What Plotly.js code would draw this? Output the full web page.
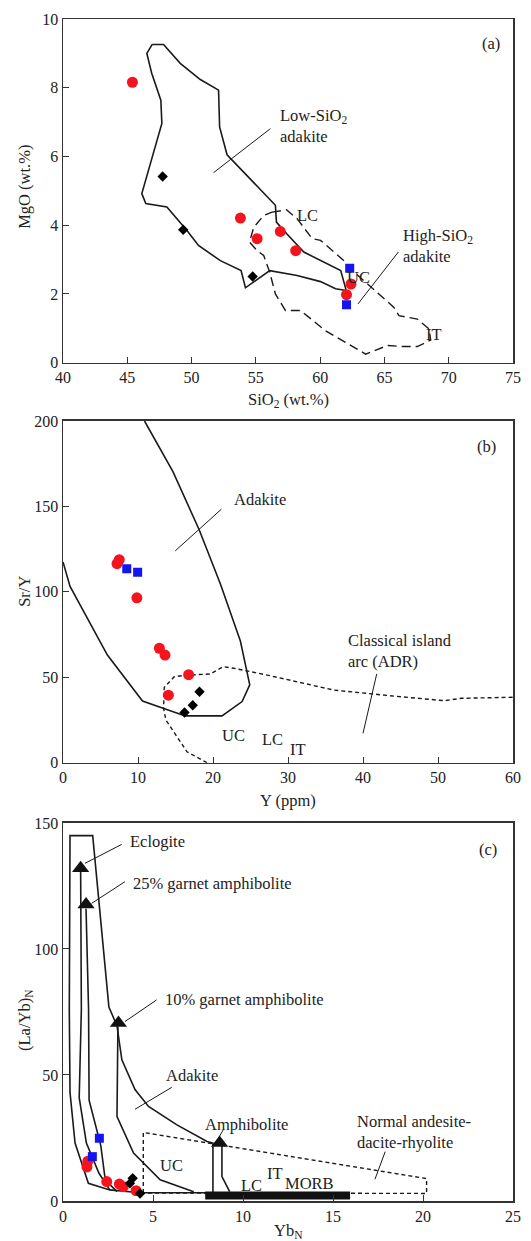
<!DOCTYPE html>
<html><head><meta charset="utf-8">
<script src="https://cdn.plot.ly/plotly-3.0.1.min.js"></script>
<style>html,body{margin:0;padding:0;background:#fff}#chart{width:531px;height:1241px}</style>
</head><body><div id="chart"></div>
<script>
// ---------- Panel (a): MgO vs SiO2 ----------
const aRedSiO2 = [45.4, 53.8, 55.1, 56.9, 58.1, 62.4, 62.05];
const aRedMgO  = [8.16, 4.21, 3.61, 3.82, 3.26, 2.29, 1.98];
const aBlueSiO2 = [62.3, 62.05];
const aBlueMgO  = [2.75, 1.69];
const aBlackSiO2 = [47.75, 49.35, 54.75];
const aBlackMgO  = [5.42, 3.87, 2.51];
const aLowSiX = [46.94,47.82,49.12,50.68,52.1,52.18,52.76,56.52,56.6,57.4,58.73,61.6,62.03,61.2,60.03,58.21,56.08,54.19,53.85,52.24,50.54,49.64,48.08,47.3,46.44,46.13,47.69,47.61,46.9,46.52,46.94];
const aLowSiY = [9.26,9.26,8.71,8.24,7.93,6.86,6.05,4.58,4.09,3.75,3.22,2.68,2.10,2.15,2.36,2.54,2.68,2.18,2.68,2.97,3.41,3.85,4.53,4.58,4.63,4.92,6.96,7.64,8.42,9.0,9.26];
const aCrustX = [56.26,57.38,58.21,59.38,60.03,61.07,61.85,62.3,63.67,64.97,65.74,66.13,67.56,68.47,68.6,67.96,67.56,66.52,65.23,63.54,62.11,60.42,58.47,57.3,56.52,56.08,55.61,55.1,54.5,54.84,55.6,56.26];
const aCrustY = [4.38,4.45,4.19,3.61,3.56,3.22,2.97,2.75,2.29,1.86,1.61,1.37,1.27,0.98,0.66,0.54,0.47,0.47,0.50,0.25,0.56,0.93,1.52,1.52,2.0,2.63,3.12,3.26,3.51,3.94,4.28,4.38];
const aLeadLowX = [56.13, 51.71], aLeadLowY = [6.81, 5.53];
const aLeadHighX = [66.08, 62.94], aLeadHighY = [3.22, 1.71];

// ---------- Panel (b): Sr/Y vs Y ----------
const bRedY = [7.2, 7.5, 9.85, 12.85, 13.6, 16.75, 14.05];
const bRedSrY = [116.5, 118.8, 96.5, 67.0, 63.0, 51.5, 39.5];
const bBlueY = [8.5, 9.95];
const bBlueSrY = [113.5, 111.5];
const bBlackY = [18.2, 17.3, 16.2];
const bBlackSrY = [41.5, 33.6, 29.4];
const bAdakX = [0,0.94,5.92,10.6,16.3,21.2,23.88,24.9,23.65,21.0,18.17,14.66,10.87];
const bAdakY = [117.5,103.2,63.0,36.1,27.4,27.4,35.8,45.6,71.2,104.5,136.2,170.4,200];
const bArcX = [19.2,16.53,13.72,13.41,13.5,14.83,16.53,19.64,21.34,22.76,27.22,36.12,45.03,50.82,53.1,60];
const bArcY = [0,6.4,25,31.8,44.1,50.3,51.3,51.9,56.2,55.3,51.3,42.5,38.6,36.3,37.7,38.3];
const bLeadAdakX = [21.12, 14.97], bLeadAdakY = [148.4, 124.0];
const bLeadArcX = [41.83, 40.0], bLeadArcY = [52.0, 17.2];

// ---------- Panel (c): (La/Yb)N vs YbN ----------
const cRedYb = [1.33, 1.38, 2.43, 3.13, 3.35, 4.06];
const cRedLaYb = [13.5, 15.8, 7.7, 6.7, 5.7, 4.1];
const cBlueYb = [2.02, 1.63];
const cBlueLaYb = [24.9, 17.6];
const cBlackYb = [3.87, 3.72, 4.28];
const cBlackLaYb = [9.0, 7.0, 3.0];
const cSourceYb = [0.98, 1.28, 3.08, 8.7];
const cSourceLaYb = [132, 117.7, 70.6, 23];
const cOuterX = [8.0,4.3,2.6,1.41,0.67,0.39,0.35,0.39,1.65,2.55,3.0,3.27,4.0,4.75,6.33,8.0,8.33,8.33];
const cOuterY = [3.3,3.3,4.4,7.0,23,43,76,145,145,77,69.5,56,44.2,37.5,30.2,23.6,23,3.5];
const cEclX = [0.98,1.02,0.9,1.3,2.0,2.6];
const cEclY = [131,76,41,23,11,4.4];
const cG25X = [1.28,1.42,1.45,2.1,2.35,3.0];
const cG25Y = [116,76,40,22,8.3,3.7];
const cG10X = [3.05,3.0,3.92,5.4,7.26];
const cG10Y = [69,33.5,19,8.4,3.7];
const cAmphX = [8.83,8.83,9.26];
const cAmphY = [24,9.7,3.7];
const cNadrX = [4.46,4.46,20.2,20.2,4.46];
const cNadrY = [3.2,27.2,8.9,3.0,3.2];
const cMorbX = [7.9, 15.95];
const cMorbY = [2.2, 2.2];
const cLeadEclX = [1.22,3.26], cLeadEclY = [134,141.5];
const cLead25X = [1.59,3.44], cLead25Y = [118.1,126.7];
const cLead10X = [5.2,3.44], cLead10Y = [79.8,71.2];
const cLeadAdakX = [6.04,4.0], cLeadAdakY = [45.1,36.4];
const cLeadAmphX = [8.9,8.63], cLeadAmphY = [28.2,24.9];
const cLeadNadrX = [17.9,17.33], cLeadNadrY = [19.6,8.6];

const INK = '#1a1a1a';
const RED = '#f5141e', BLUE = '#1414f0';
function line(x, y, xa, ya, opts) {
  return Object.assign({x, y, xaxis: xa, yaxis: ya, mode: 'lines', hoverinfo: 'skip', showlegend: false,
    line: {color: INK, width: 1.6}}, opts || {});
}
function pts(x, y, xa, ya, symbol, color, size) {
  return {x, y, xaxis: xa, yaxis: ya, mode: 'markers', showlegend: false,
    marker: {symbol, color, size, line: {width: 0}}};
}
const thin = {line: {color: INK, width: 1}};
const traces = [
  line(aLowSiX, aLowSiY, 'x', 'y'),
  line(aCrustX, aCrustY, 'x', 'y', {line: {color: INK, width: 1.4, dash: '9px,5px'}}),
  line(aLeadLowX, aLeadLowY, 'x', 'y', thin),
  line(aLeadHighX, aLeadHighY, 'x', 'y', thin),
  pts(aRedSiO2, aRedMgO, 'x', 'y', 'circle', RED, 11),
  pts(aBlueSiO2, aBlueMgO, 'x', 'y', 'square', BLUE, 9),
  pts(aBlackSiO2, aBlackMgO, 'x', 'y', 'diamond', '#000', 8),

  line(bAdakX, bAdakY, 'x2', 'y2'),
  line(bArcX, bArcY, 'x2', 'y2', {line: {color: INK, width: 1.4, dash: '4px,3px'}}),
  line(bLeadAdakX, bLeadAdakY, 'x2', 'y2', thin),
  line(bLeadArcX, bLeadArcY, 'x2', 'y2', thin),
  pts(bRedY, bRedSrY, 'x2', 'y2', 'circle', RED, 11),
  pts(bBlueY, bBlueSrY, 'x2', 'y2', 'square', BLUE, 9),
  pts(bBlackY, bBlackSrY, 'x2', 'y2', 'diamond', '#000', 8),

  line(cOuterX, cOuterY, 'x3', 'y3'),
  line(cEclX, cEclY, 'x3', 'y3'),
  line(cG25X, cG25Y, 'x3', 'y3'),
  line(cG10X, cG10Y, 'x3', 'y3'),
  line(cAmphX, cAmphY, 'x3', 'y3'),
  line(cNadrX, cNadrY, 'x3', 'y3', {line: {color: INK, width: 1.4, dash: '4px,3px'}}),
  line(cMorbX, cMorbY, 'x3', 'y3', {line: {color: '#111', width: 8}}),
  line(cLeadEclX, cLeadEclY, 'x3', 'y3', thin),
  line(cLead25X, cLead25Y, 'x3', 'y3', thin),
  line(cLead10X, cLead10Y, 'x3', 'y3', thin),
  line(cLeadAdakX, cLeadAdakY, 'x3', 'y3', thin),
  line(cLeadAmphX, cLeadAmphY, 'x3', 'y3', thin),
  line(cLeadNadrX, cLeadNadrY, 'x3', 'y3', thin),
  pts(cSourceYb, cSourceLaYb, 'x3', 'y3', 'triangle-up', '#111', 15),
  pts(cRedYb, cRedLaYb, 'x3', 'y3', 'circle', RED, 11),
  pts(cBlueYb, cBlueLaYb, 'x3', 'y3', 'square', BLUE, 9),
  pts(cBlackYb, cBlackLaYb, 'x3', 'y3', 'diamond', '#000', 8)
];

const FONT = '"Liberation Serif", "Times New Roman", serif';
function ax(range, dtick, domain, anchor) {
  return {range, dtick, domain, anchor, showgrid: false, zeroline: false, ticks: 'inside', ticklen: 6,
    tickwidth: 1, tickcolor: '#333', showline: true, mirror: true, linecolor: '#333', linewidth: 1.5,
    tickfont: {family: FONT, size: 16, color: '#222'}, fixedrange: true};
}
function txt(text, x, y, xr, yr, o) {
  return Object.assign({text, x, y, xref: xr, yref: yr, showarrow: false, align: 'left',
    xanchor: 'left', yanchor: 'middle', font: {family: FONT, size: 16.5, color: '#222'}}, o || {});
}
const C = {xanchor: 'center'};
const annotations = [
  txt('Low-SiO<sub>2</sub><br>adakite', 56.76, 6.88, 'x', 'y'),
  txt('High-SiO<sub>2</sub><br>adakite', 66.27, 3.4, 'x', 'y'),
  txt('LC', 59.0, 4.28, 'x', 'y', C),
  txt('UC', 63.0, 2.49, 'x', 'y', C),
  txt('IT', 68.86, 0.81, 'x', 'y', C),
  txt('(a)', 73.3, 9.28, 'x', 'y', C),
  txt('Adakite', 22.55, 154.2, 'x2', 'y2'),
  txt('Classical island<br>arc (ADR)', 37.69, 65.2, 'x2', 'y2'),
  txt('UC', 22.76, 15.8, 'x2', 'y2', C),
  txt('LC', 27.89, 13.3, 'x2', 'y2', C),
  txt('IT', 31.36, 8.0, 'x2', 'y2', C),
  txt('(b)', 56.4, 185, 'x2', 'y2', C),
  txt('Eclogite', 3.63, 142.6, 'x3', 'y3'),
  txt('25% garnet amphibolite', 3.78, 126, 'x3', 'y3'),
  txt('10% garnet amphibolite', 5.57, 80, 'x3', 'y3'),
  txt('Adakite', 5.63, 49.7, 'x3', 'y3'),
  txt('Amphibolite', 10.2, 30.5, 'x3', 'y3', C),
  txt('UC', 6.0, 14.1, 'x3', 'y3', C),
  txt('LC', 10.48, 6.3, 'x3', 'y3', C),
  txt('IT', 11.78, 11.0, 'x3', 'y3', C),
  txt('MORB', 13.72, 7.0, 'x3', 'y3', C),
  txt('Normal andesite-<br>dacite-rhyolite', 16.2, 27.5, 'x3', 'y3'),
  txt('(c)', 23.6, 139.5, 'x3', 'y3', C),
  // axis titles
  txt('MgO (wt.%)', 0, 0.5, 'x domain', 'y domain', {xanchor: 'center', textangle: -90, xshift: -38, yshift: 4}),
  txt('SiO<sub>2</sub> (wt.%)', 0.5, 0, 'x domain', 'y domain', {xanchor: 'center', yanchor: 'middle', yshift: -37}),
  txt('Sr/Y', 0, 0.5, 'x2 domain', 'y2 domain', {xanchor: 'center', textangle: -90, xshift: -38}),
  txt('Y (ppm)', 0.5, 0, 'x2 domain', 'y2 domain', {xanchor: 'center', yanchor: 'middle', yshift: -38}),
  txt('(La/Yb)<sub>N</sub>', 0, 0.5, 'x3 domain', 'y3 domain', {xanchor: 'center', textangle: -90, xshift: -38, yshift: -8}),
  txt('Yb<sub>N</sub>', 0.5, 0, 'x3 domain', 'y3 domain', {xanchor: 'center', yanchor: 'middle', yshift: -30})
];

const layout = {
  width: 531, height: 1241,
  margin: {l: 63, r: 18, t: 19, b: 40},
  paper_bgcolor: '#fff', plot_bgcolor: '#fff',
  font: {family: FONT, size: 16, color: '#222'},
  showlegend: false,
  xaxis: ax([40, 75], 5, [0, 1], 'y'),
  yaxis: ax([0, 10], 2, [0.7092, 1], 'x'),
  xaxis2: ax([0, 60], 10, [0, 1], 'y2'),
  yaxis2: ax([0, 200], 50, [0.3708, 0.6599], 'x2'),
  xaxis3: ax([0, 25], 5, [0, 1], 'y3'),
  yaxis3: ax([0, 150], 50, [0, 0.3198], 'x3'),
  annotations
};
Plotly.newPlot('chart', traces, layout, {staticPlot: true, displayModeBar: false});
</script></body></html>
